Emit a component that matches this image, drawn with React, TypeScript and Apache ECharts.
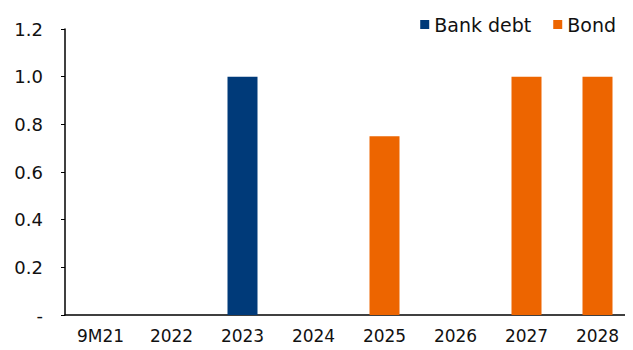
import React, { useEffect, useRef } from "react";
import * as echarts from "echarts";

const categories = ["9M21", "2022", "2023", "2024", "2025", "2026", "2027", "2028"];
const bankDebt = [null, null, 1.0, null, null, null, null, null];
const bond = [null, null, null, null, 0.75, null, 1.0, 1.0];
const yTicks = { min: 0, max: 1.2, interval: 0.2 };

export default function App() {
  const ref = useRef<HTMLDivElement>(null);
  useEffect(() => {
    const chart = echarts.init(ref.current!, null, { renderer: "svg" });
    const font = "'DejaVu Sans', sans-serif";
    chart.setOption({
      animation: false,
      textStyle: { fontFamily: font },
      legend: {
        top: 10,
        right: 12,
        icon: "rect",
        itemWidth: 9,
        itemHeight: 9,
        itemGap: 22,
        textStyle: { fontSize: 19, color: "#111", fontFamily: font },
        data: ["Bank debt", "Bond"],
      },
      grid: { left: 65, right: -4, top: 29, bottom: 35, containLabel: false },
      xAxis: {
        type: "category",
        data: categories,
        axisLine: { lineStyle: { color: "#000", width: 1.5 } },
        axisTick: { show: false },
        axisLabel: { fontSize: 17, color: "#111", margin: 12, fontFamily: font },
      },
      yAxis: {
        type: "value",
        min: yTicks.min,
        max: yTicks.max,
        interval: yTicks.interval,
        splitLine: { show: false },
        axisLine: { show: true, lineStyle: { color: "#000", width: 1.5 } },
        axisTick: { show: true, length: 4, lineStyle: { color: "#000" } },
        axisLabel: {
          fontSize: 18,
          color: "#111",
          margin: 22,
          fontFamily: font,
          formatter: (v: number) => (v === 0 ? "-" : v.toFixed(1)),
        },
      },
      series: [
        {
          name: "Bank debt",
          type: "bar",
          stack: "total",
          data: bankDebt,
          barWidth: 30,
          itemStyle: { color: "#003A79" },
        },
        {
          name: "Bond",
          type: "bar",
          stack: "total",
          data: bond,
          barWidth: 30,
          itemStyle: { color: "#ED6500" },
        },
      ],
    });
    return () => chart.dispose();
  }, []);
  return <div ref={ref} style={{ width: 633, height: 350, margin: -8 }} />;
}
